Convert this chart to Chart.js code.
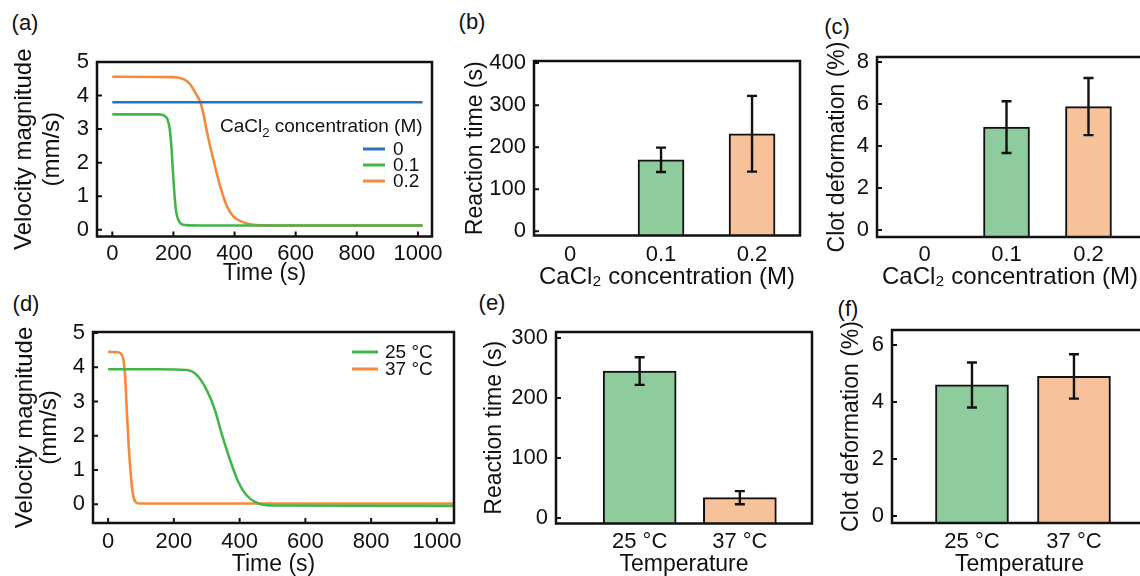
<!DOCTYPE html>
<html>
<head>
<meta charset="utf-8">
<script src="https://cdn.jsdelivr.net/npm/chart.js@4.4.0/dist/chart.umd.min.js"></script>
<style>
  html, body { margin: 0; padding: 0; background: #fff; overflow: hidden; }
  body { width: 1140px; height: 576px; position: relative; font-family: "Liberation Sans", Arial, sans-serif; }
  canvas { position: absolute; }
  .tag { position: absolute; font-size: 22px; color: #111; transform: translate(-50%, -50%); white-space: nowrap; }
</style>
</head>
<body>
<div class="tag" style="left:25px;top:23px">(a)</div>
<div class="tag" style="left:472px;top:22px">(b)</div>
<div class="tag" style="left:837px;top:27px">(c)</div>
<div class="tag" style="left:26px;top:304px">(d)</div>
<div class="tag" style="left:492px;top:303px">(e)</div>
<div class="tag" style="left:848px;top:309px">(f)</div>
<canvas id="chartA"></canvas>
<canvas id="chartB"></canvas>
<canvas id="chartC"></canvas>
<canvas id="chartD"></canvas>
<canvas id="chartE"></canvas>
<canvas id="chartF"></canvas>
<script>
const FONT = '"Liberation Sans", Arial, sans-serif';
const INK = "#111111";
const LINE_BLUE = "#2872bf";
const LINE_GREEN = "#43b649";
const LINE_ORANGE = "#f5893d";
const BAR_GREEN = "#8ecb9d";
const BAR_ORANGE = "#f7c199";

// shared categories and ticks
const concLabels = ["0", "0.1", "0.2"];
const tempLabels = ["25 °C", "37 °C"];
const timeTicks = [0, 200, 400, 600, 800, 1000];
const velTicks = [0, 1, 2, 3, 4, 5];

// (a) velocity magnitude (mm/s) vs time (s), one curve per CaCl2 concentration
const velConc0 = [[0, 3.8], [1015, 3.8]];
const velConc01 = [
    [0, 3.44], [150, 3.44], [170, 3.40], [180, 3.30], [188, 3.0], [194, 2.4], [198, 1.8],
    [203, 1.1], [208, 0.6], [215, 0.32], [225, 0.18], [240, 0.14], [300, 0.13], [1015, 0.13],
];
const velConc02 = [
    [0, 4.56], [200, 4.55], [235, 4.48], [255, 4.33], [272, 4.08], [288, 3.8], [300, 3.38],
    [309, 2.95], [331, 2.08], [353, 1.3], [375, 0.7], [396, 0.4], [429, 0.22], [462, 0.15],
    [520, 0.13], [1015, 0.13],
];

// (b) reaction time (s) by concentration; no reaction at 0 M
const reactionConc = [null, 170, 232];
const reactionConcErr = [null, 29, 90];
const reactionConcTicks = [0, 100, 200, 300, 400];

// (c) clot deformation (%) by concentration
const clotConc = [null, 4.9, 5.88];
const clotConcErr = [null, 1.23, 1.36];
const clotConcTicks = [0, 2, 4, 6, 8];

// (d) velocity magnitude vs time at two temperatures
const vel25 = [
    [0, 3.94], [150, 3.94], [239, 3.92], [270, 3.77], [300, 3.33], [325, 2.75], [345, 2.07],
    [371, 1.29], [396, 0.65], [421, 0.26], [452, 0.04], [502, -0.04], [1052, -0.05],
];
const vel37 = [
    [0, 4.45], [30, 4.44], [40, 4.38], [47, 4.2], [52, 3.7], [57, 2.7], [62, 1.8], [67, 1.1],
    [72, 0.55], [77, 0.22], [84, 0.06], [95, 0.02], [1052, 0.02],
];

// (e) reaction time (s) by temperature
const reactionTemp = [245, 34];
const reactionTempErr = [23, 11];
const reactionTempTicks = [0, 100, 200, 300];

// (f) clot deformation (%) by temperature
const clotTemp = [4.6, 4.9];
const clotTempErr = [0.79, 0.78];
const clotTempTicks = [0, 2, 4, 6];

const framePlugin = {
    id: "frame",
    afterDatasetsDraw(chart, args, opts) {
        const { ctx, chartArea: area, scales } = chart;
        ctx.save();
        ctx.strokeStyle = INK;
        ctx.lineWidth = 2;
        ctx.beginPath();
        scales.y.ticks.forEach((t) => {
            const py = scales.y.getPixelForValue(t.value);
            ctx.moveTo(area.left, py);
            ctx.lineTo(area.left + 5, py);
        });
        if (opts.xMarks) {
            scales.x.ticks.forEach((t) => {
                const px = scales.x.getPixelForValue(t.value);
                ctx.moveTo(px, area.bottom);
                ctx.lineTo(px, area.bottom - 5);
            });
        }
        ctx.stroke();
        ctx.lineWidth = 2.5;
        ctx.strokeRect(area.left, area.top, area.right - area.left, area.bottom - area.top);
        ctx.restore();
    },
};

const errorBarPlugin = {
    id: "errorBars",
    afterDatasetsDraw(chart, args, opts) {
        if (!opts.errors) {
            return;
        }
        const { ctx } = chart;
        const y = chart.scales.y;
        const meta = chart.getDatasetMeta(0);
        const points = chart.data.datasets[0].data;
        ctx.save();
        ctx.strokeStyle = INK;
        ctx.lineWidth = 2.4;
        meta.data.forEach((bar, i) => {
            const v = points[i].y;
            const e = opts.errors[i];
            if (v == null || e == null) {
                return;
            }
            const top = y.getPixelForValue(v + e);
            const bottom = y.getPixelForValue(v - e);
            ctx.beginPath();
            ctx.moveTo(bar.x, top);
            ctx.lineTo(bar.x, bottom);
            ctx.moveTo(bar.x - 5, top);
            ctx.lineTo(bar.x + 5, top);
            ctx.moveTo(bar.x - 5, bottom);
            ctx.lineTo(bar.x + 5, bottom);
            ctx.stroke();
        });
        ctx.restore();
    },
};

const legendPlugin = {
    id: "lineLegend",
    afterDraw(chart, args, opts) {
        if (!opts.rows) {
            return;
        }
        const { ctx } = chart;
        ctx.save();
        ctx.fillStyle = INK;
        ctx.textBaseline = "middle";
        if (opts.heading) {
            // heading parts: normal, subscript, normal
            let hx = opts.heading.x;
            const hy = opts.heading.y;
            opts.heading.parts.forEach((part, i) => {
                const sub = i % 2 === 1;
                ctx.font = (sub ? "13px " : "19px ") + FONT;
                ctx.fillText(part, hx, sub ? hy + 6 : hy);
                hx += ctx.measureText(part).width;
            });
        }
        ctx.font = "19px " + FONT;
        chart.data.datasets.forEach((ds, i) => {
            const ry = opts.y + i * opts.gap;
            ctx.strokeStyle = ds.borderColor;
            ctx.lineWidth = 3;
            ctx.beginPath();
            ctx.moveTo(opts.x, ry);
            ctx.lineTo(opts.x + opts.len, ry);
            ctx.stroke();
            ctx.fillText(ds.label, opts.x + opts.len + opts.space, ry + 1);
        });
        ctx.restore();
    },
};

function toPoints(pairs) {
    return pairs.map(([x, y]) => ({ x, y }));
}

function lineSet(label, pairs, color) {
    return {
        label,
        data: toPoints(pairs),
        borderColor: color,
        borderWidth: 2.6,
        pointRadius: 0,
        cubicInterpolationMode: "monotone",
        fill: false,
    };
}

function barSet(positions, values, colors, base, thickness) {
    return {
        data: positions.map((x, i) => ({ x, y: values[i] })),
        backgroundColor: colors,
        borderColor: INK,
        borderWidth: 2,
        barThickness: thickness,
        base,
    };
}

// rect: canvas [left, top, width, height] on the page, box: plot frame [left, top, right, bottom]
function makePanel(id, rect, box, setup) {
    const canvas = document.getElementById(id);
    canvas.width = rect[2];
    canvas.height = rect[3];
    canvas.style.left = rect[0] + "px";
    canvas.style.top = rect[1] + "px";
    const yWidth = box[0] - rect[0];
    const xHeight = rect[1] + rect[3] - box[3];
    const tickFont = { family: FONT, size: 22, lineHeight: 1.2 };
    return new Chart(canvas, {
        type: setup.type,
        data: { datasets: setup.datasets },
        options: {
            responsive: false,
            animation: false,
            events: [],
            layout: {
                padding: { left: 0, top: box[1] - rect[1], right: rect[0] + rect[2] - box[2], bottom: 0 },
            },
            scales: {
                x: {
                    type: "linear",
                    offset: false,
                    min: setup.x.min,
                    max: setup.x.max,
                    afterBuildTicks: (s) => {
                        s.ticks = setup.x.ticks.map((v) => ({ value: v }));
                    },
                    afterFit: (s) => {
                        s.height = xHeight;
                        s.paddingLeft = 0;
                        s.paddingRight = 0;
                    },
                    grid: { display: false, drawTicks: false },
                    border: { display: false },
                    ticks: {
                        font: tickFont,
                        color: INK,
                        padding: setup.x.pad,
                        maxRotation: 0,
                        autoSkip: false,
                        callback: setup.x.label,
                    },
                    title: {
                        display: true,
                        text: setup.x.title,
                        color: INK,
                        font: { family: FONT, size: setup.x.titleSize || 23, lineHeight: 1.25 },
                        padding: { top: 0, bottom: setup.x.titlePad },
                    },
                },
                y: {
                    type: "linear",
                    min: setup.y.min,
                    max: setup.y.max,
                    afterBuildTicks: (s) => {
                        s.ticks = setup.y.ticks.map((v) => ({ value: v }));
                    },
                    afterFit: (s) => {
                        s.width = yWidth;
                        s.paddingTop = 0;
                        s.paddingBottom = 0;
                    },
                    grid: { display: false, drawTicks: false },
                    border: { display: false },
                    ticks: {
                        font: tickFont,
                        color: INK,
                        padding: 8,
                        autoSkip: false,
                        callback: (v) => String(v),
                    },
                    title: {
                        display: true,
                        text: setup.y.title,
                        color: INK,
                        font: { family: FONT, size: setup.y.titleSize || 23, lineHeight: setup.y.lineHeight || 1.25 },
                        padding: { top: setup.y.titlePad, bottom: 0 },
                    },
                },
            },
            plugins: {
                legend: { display: false },
                tooltip: { enabled: false },
                frame: { xMarks: setup.type === "line" },
                errorBars: { errors: setup.errors },
                lineLegend: setup.legend || {},
            },
        },
        plugins: [errorBarPlugin, framePlugin, legendPlugin],
    });
}

const concPos = concLabels.map(Number);
const tempPos = tempLabels.map((_, i) => i);
const CONC_TITLE = "CaCl₂ concentration (M)";
const CLEAR = "rgba(0,0,0,0)";

makePanel("chartA", [0, 0, 455, 290], [97, 62, 432, 236.5], {
    type: "line",
    datasets: [
        lineSet(concLabels[0], velConc0, LINE_BLUE),
        lineSet(concLabels[1], velConc01, LINE_GREEN),
        lineSet(concLabels[2], velConc02, LINE_ORANGE),
    ],
    x: { min: -50, max: 1046, ticks: timeTicks, label: (v) => String(v), pad: 3.8, title: "Time (s)", titlePad: 1.8 },
    y: { min: -0.2, max: 5, ticks: velTicks, title: ["Velocity magnitude", "(mm/s)"], titleSize: 24, lineHeight: 1.17, titlePad: 10 },
    legend: {
        rows: true, x: 363, y: 149, gap: 16, len: 22, space: 8,
        heading: { x: 220, y: 127, parts: ["CaCl", "2", " concentration (M)"] },
    },
});

makePanel("chartB", [440, 0, 375, 295], [534, 61, 800, 235.5], {
    type: "bar",
    datasets: [barSet(concPos, reactionConc, [CLEAR, BAR_GREEN, BAR_ORANGE], -10, 46)],
    errors: reactionConcErr,
    x: { min: -0.0396, max: 0.2527, ticks: concPos, label: (v, i) => concLabels[i], pad: 6.3, title: CONC_TITLE, titleSize: 24, titlePad: 3 },
    y: { min: -10, max: 405, ticks: reactionConcTicks, title: "Reaction time (s)", titlePad: 21.6 },
});

makePanel("chartC", [810, 0, 345, 295], [877, 57, 1143, 237], {
    type: "bar",
    datasets: [barSet(concPos, clotConc, [CLEAR, BAR_GREEN, BAR_ORANGE], -0.33, 46)],
    errors: clotConcErr,
    x: { min: -0.058, max: 0.2665, ticks: concPos, label: (v, i) => concLabels[i], pad: 4.8, title: CONC_TITLE, titleSize: 24, titlePad: 3 },
    y: { min: -0.33, max: 8.24, ticks: clotConcTicks, title: "Clot deformation (%)", titlePad: 13.6 },
});

makePanel("chartD", [0, 285, 475, 305], [93, 332, 454, 523], {
    type: "line",
    datasets: [
        lineSet(tempLabels[0], vel25, LINE_GREEN),
        lineSet(tempLabels[1], vel37, LINE_ORANGE),
    ],
    x: { min: -46, max: 1052, ticks: timeTicks, label: (v) => String(v), pad: 5.5, title: "Time (s)", titlePad: 10.6 },
    y: { min: -0.55, max: 5.03, ticks: velTicks, title: ["Velocity magnitude", "(mm/s)"], titleSize: 24, lineHeight: 1.0, titlePad: 13 },
    legend: { rows: true, x: 352, y: 67, gap: 17, len: 26, space: 7 },
});

makePanel("chartE", [470, 285, 350, 305], [556, 332, 812, 523.5], {
    type: "bar",
    datasets: [barSet(tempPos, reactionTemp, [BAR_GREEN, BAR_ORANGE], -9, 73)],
    errors: reactionTempErr,
    x: { min: -0.835, max: 1.72, ticks: tempPos, label: (v, i) => tempLabels[i], pad: 5, title: "Temperature", titlePad: 10.6 },
    y: { min: -9, max: 310, ticks: reactionTempTicks, title: "Reaction time (s)", titlePad: 10.6 },
});

makePanel("chartF", [820, 285, 340, 305], [892, 330, 1147, 523], {
    type: "bar",
    datasets: [barSet(tempPos, clotTemp, [BAR_GREEN, BAR_ORANGE], -0.25, 73)],
    errors: clotTempErr,
    x: { min: -0.784, max: 1.716, ticks: tempPos, label: (v, i) => tempLabels[i], pad: 5.5, title: "Temperature", titlePad: 10.6 },
    y: { min: -0.25, max: 6.53, ticks: clotTempTicks, title: "Clot deformation (%)", titlePad: 17.6 },
});
</script>
</body>
</html>
